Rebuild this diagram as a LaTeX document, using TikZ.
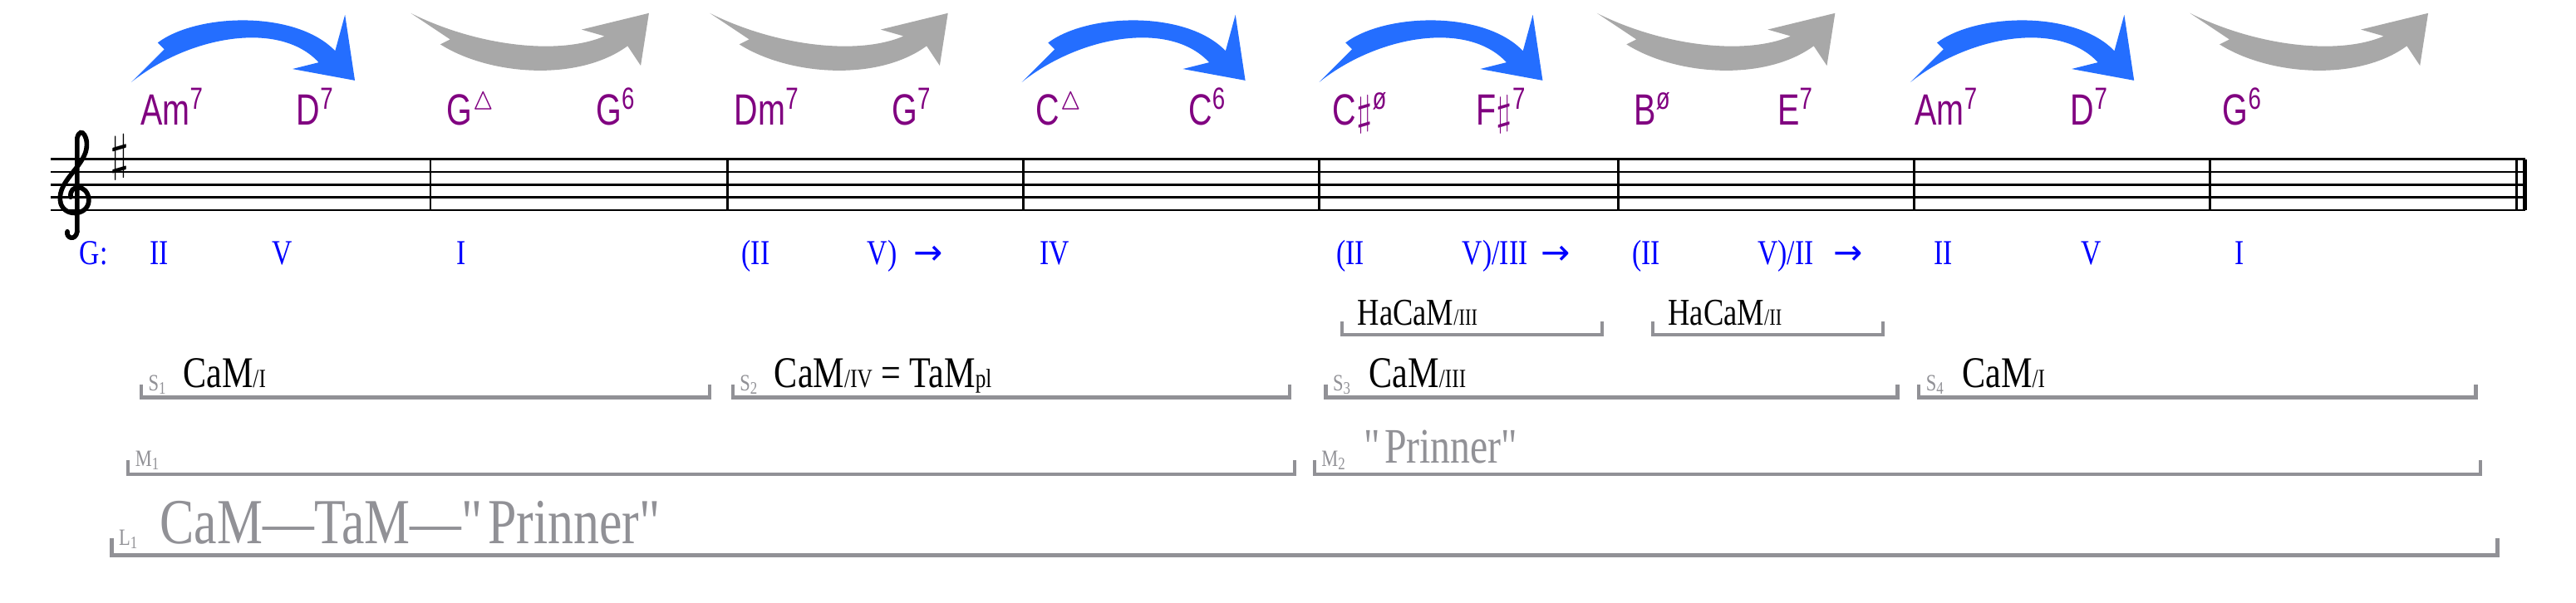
\documentclass[tikz,border=0pt]{standalone}
\usepackage{amssymb}
\usepackage{fontspec}
\setmainfont{Liberation Serif}[FakeStretch=0.8]
\newfontfamily\chordfont{Liberation Sans}[FakeStretch=0.75]
\newfontfamily\symfont{DejaVu Sans}
\usetikzlibrary{positioning}

\definecolor{chordpurple}{RGB}{128,0,128}
\definecolor{arrblue}{RGB}{36,110,255}
\definecolor{arrgray}{RGB}{168,168,168}
\definecolor{brgray}{RGB}{145,145,150}

\tikzset{
  chord/.style={font=\chordfont\fontsize{15}{15}\selectfont, text=chordpurple, anchor=base},
  roman/.style={font=\fontsize{12}{12}\selectfont, text=blue, anchor=base},
  label/.style={font=\fontsize{15}{15}\selectfont, anchor=base west, inner sep=0pt},
  glabel/.style={label, text=brgray},
  tag/.style={font=\fontsize{8}{8}\selectfont, text=brgray, anchor=base west, inner sep=0pt},
  span/.style={draw=brgray, line width=1.2pt},
  staff/.style={line width=0.8pt},
  pics/up arc/.style={code={
    \fill[arrblue] (0,50) .. controls (35,22) and (90,12) .. (114,38) -- (98,42)
      -- (136,49) -- (130,9) -- (124,31) .. controls (100,6) and (40,8) .. (16,26)
      -- (20,30) -- cycle;}},
  pics/down arc/.style={code={
    \fill[arrgray] (0,8) .. controls (40,28) and (90,34) .. (118,22) -- (104,18)
      -- (145,8) -- (140,40) -- (132,28) .. controls (102,50) and (48,46) .. (18,27)
      -- (24,24) -- cycle;}}
}

\begin{document}
\begin{tikzpicture}[x=0.01977cm, y=-0.01977cm]
	\useasboundingbox (0,0) rectangle (1568,367);

	% Arrows above the chords
	\foreach \x in {80, 622, 803, 1163} \pic at (\x,0) {up arc};
	\foreach \x in {250, 432, 972, 1333} \pic at (\x,0) {down arc};

	% Staff
	\foreach \y in {97, 104.75, 112.5, 120.25, 128} \draw[staff] (31,\y) -- (1537,\y);
	\foreach \x in {262, 443, 623, 803, 985, 1165, 1345} \draw[staff] (\x,97) -- (\x,128);
	\draw[staff] (1532,97) -- (1532,128);
	\draw[line width=1.4pt] (1537,97) -- (1537,128);
	% treble clef, drawn
	\draw[line width=1.6pt, line cap=round] (47,141) -- (47,84)
	  .. controls (49,76) and (55,84) .. (52,93)
	  .. controls (48,104) and (34,112) .. (37,124)
	  .. controls (40,133) and (55,131) .. (54,121)
	  .. controls (53,112) and (42,112) .. (43,120);
	\draw[line width=1.6pt, line cap=round] (47,141) .. controls (46,147) and (40,145) .. (41,141);
	\node[font=\fontsize{16}{16}\selectfont] (sharp) at (73,96) {$\sharp$};

	% Chord names
	\node[chord] (c1)  at (105,76)  {Am\textsuperscript{7}};
	\node[chord] (c2)  at (192,76)  {D\textsuperscript{7}};
	\node[chord] (c3)  at (287,76)  {G$^{\vartriangle}$};
	\node[chord] (c4)  at (375,76)  {G\textsuperscript{6}};
	\node[chord] (c5)  at (467,76)  {Dm\textsuperscript{7}};
	\node[chord] (c6)  at (555,76)  {G\textsuperscript{7}};
	\node[chord] (c7)  at (645,76)  {C$^{\vartriangle}$};
	\node[chord] (c8)  at (735,76)  {C\textsuperscript{6}};
	\node[chord] (c9)  at (828,76)  {C$\sharp$\textsuperscript{ø}};
	\node[chord] (c10) at (914,76)  {F$\sharp$\textsuperscript{7}};
	\node[chord] (c11) at (1006,76) {B\textsuperscript{ø}};
	\node[chord] (c12) at (1093,76) {E\textsuperscript{7}};
	\node[chord] (c13) at (1185,76) {Am\textsuperscript{7}};
	\node[chord] (c14) at (1272,76) {D\textsuperscript{7}};
	\node[chord] (c15) at (1365,76) {G\textsuperscript{6}};

	% Roman numerals
	\node[roman] (key) at (57,161)   {G:};
	\node[roman] (r1)  at (97,161)   {II};
	\node[roman] (r2)  at (172,161)  {V};
	\node[roman] (r3)  at (281,161)  {I};
	\node[roman] (r4)  at (460,161)  {(II};
	\node[roman] (r5)  at (537,161)  {V)};
	\node[roman] (r6)  at (565,161)  {\symfont →};
	\node[roman] (r7)  at (642,161)  {IV};
	\node[roman] (r8)  at (822,161)  {(II};
	\node[roman] (r9)  at (910,161)  {V)/III};
	\node[roman] (r10) at (947,161)  {\symfont →};
	\node[roman] (r11) at (1002,161) {(II};
	\node[roman] (r12) at (1087,161) {V)/II};
	\node[roman] (r13) at (1125,161) {\symfont →};
	\node[roman] (r14) at (1183,161) {II};
	\node[roman] (r15) at (1273,161) {V};
	\node[roman] (r16) at (1363,161) {I};

	% Half cadences
	\draw[span] (817,196) |- (975,204) -- (975,196);
	\node[label, font=\fontsize{13}{13}\selectfont] (h1) at (826,198) {HaCaM{\footnotesize/III}};
	\draw[span] (1006,196) |- (1146,204) -- (1146,196);
	\node[label, font=\fontsize{13}{13}\selectfont] (h2) at (1015,198) {HaCaM{\footnotesize/II}};

	% Sections
	\draw[span] (86,234) |- (432,242) -- (432,234);
	\node[tag] (s1) at (90,238) {S\textsubscript{1}};
	\node[label] (s1t) at (111,236) {CaM{\small/I}};
	\draw[span] (446,234) |- (785,242) -- (785,234);
	\node[tag] (s2) at (450,238) {S\textsubscript{2}};
	\node[label] (s2t) at (471,236) {CaM{\small/IV} = TaM{\small pl}};
	\draw[span] (807,234) |- (1155,242) -- (1155,234);
	\node[tag] (s3) at (811,238) {S\textsubscript{3}};
	\node[label] (s3t) at (833,236) {CaM{\small/III}};
	\draw[span] (1168,234) |- (1507,242) -- (1507,234);
	\node[tag] (s4) at (1172,238) {S\textsubscript{4}};
	\node[label] (s4t) at (1194,236) {CaM{\small/I}};

	% Middle level
	\draw[span] (78,280) |- (788,289) -- (788,280);
	\node[tag] (m1) at (82,284) {M\textsubscript{1}};
	\draw[span] (800,280) |- (1510,289) -- (1510,280);
	\node[tag] (m2) at (804,284) {M\textsubscript{2}};
	\node[glabel, font=\fontsize{17}{17}\selectfont] (m2t) at (830,282) {\textquotedbl Prinner\textquotedbl};

	% Large level
	\draw[span, line width=1.5pt] (68,328) |- (1520,338) -- (1520,328);
	\node[tag] (l1) at (72,332) {L\textsubscript{1}};
	\node[glabel, font=\fontsize{22}{22}\selectfont] (l1t) at (97,331) {CaM—TaM—\textquotedbl Prinner\textquotedbl};
\end{tikzpicture}
\end{document}
